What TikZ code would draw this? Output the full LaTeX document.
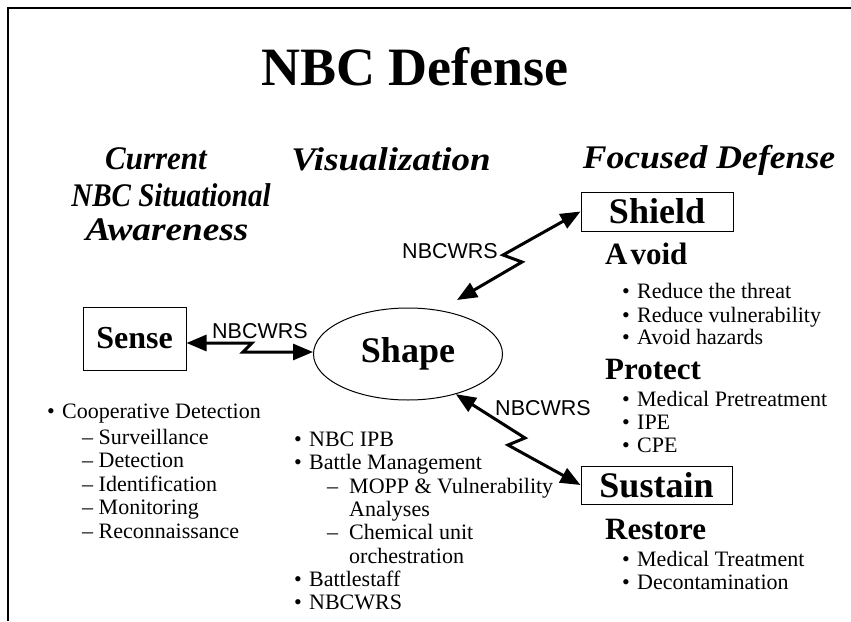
\documentclass[tikz,border=0pt]{standalone}
\usepackage{fontspec}
\setmainfont{Liberation Serif}
\newfontfamily\labfont{Liberation Sans}
\usetikzlibrary{arrows.meta,shapes.geometric,calc}
\begin{document}
\begin{tikzpicture}[x=1pt,y=-1pt,
  body/.style={anchor=mid west,inner sep=0pt,yshift=-4pt,font=\fontsize{22}{24}\selectfont},
  hdr/.style={inner sep=0pt,font=\fontsize{33}{36}\selectfont\bfseries\itshape},
  subhd/.style={anchor=mid west,inner sep=0pt,yshift=-7pt,font=\fontsize{31}{34}\selectfont\bfseries},
  boxlab/.style={draw,line width=1pt,inner sep=0pt,font=\fontsize{36}{40}\selectfont\bfseries},
  lab/.style={inner sep=0pt,font=\labfont\fontsize{21.5}{23}\selectfont},
  bolt/.style={line width=3pt,{Triangle[length=20pt,width=16pt]}-{Triangle[length=20pt,width=16pt]}}
]
\useasboundingbox (0,0) rectangle (851,621);
\draw[line width=1.5pt] (8,621) -- (8,8) -- (851,8);

\node[inner sep=0pt,font=\fontsize{54}{60}\selectfont\bfseries] (title) at (415,67) {NBC Defense};

\node[hdr] (h1) at (156,159) {\scalebox{0.94}[1]{Current}};
\node[hdr] (h2) at (171,195) {\scalebox{0.88}[1]{NBC Situational}};
\node[hdr] (h3) at (167,230) {\scalebox{1.13}[1]{Awareness}};
\node[hdr] (h4) at (391,159) {\scalebox{1.12}[1]{Visualization}};
\node[hdr] (h5) at (709,160) {\scalebox{1.08}[1]{Focused Defense}};

\node[boxlab,minimum width=103pt,minimum height=63pt,font=\fontsize{32}{36}\selectfont\bfseries] (sense) at (134.5,338.5) {Sense};
\node[draw,ellipse,line width=1pt,minimum width=189pt,minimum height=92pt,inner sep=0pt,font=\fontsize{36}{40}\selectfont\bfseries] (shape) at (408,354) {Shape};
\node[boxlab,minimum width=152pt,minimum height=39pt] (shield) at (657,211.5) {Shield};
\node[boxlab,minimum width=151pt,minimum height=38pt] (sustain) at (656.5,485) {Sustain};

% connectors
\coordinate (k1a) at (252,343);
\coordinate (k1b) at (243,352);
\draw[bolt] (sense.east |- k1a) -- (k1a) -- (k1b) -- (shape.west |- k1b);
\coordinate (t2) at (457,300);
\coordinate (k2a) at (522,262);
\coordinate (k2b) at (503,255);
\draw[bolt] (t2) -- (k2a) -- (k2b) -- (shield.west);
\coordinate (k3a) at (525,438);
\coordinate (k3b) at (508,445);
\draw[bolt] (shape.-40) -- (k3a) -- (k3b) -- (sustain.west);

\node[lab] (w1) at (260,331) {NBCWRS};
\node[lab] (w2) at (450,251) {NBCWRS};
\node[lab] (w3) at (543,408) {NBCWRS};

% left list
\node[body] (l1) at (47,412) {\makebox[15pt][l]{\textbullet}Cooperative Detection};
\node[body] (l2) at (82,438) {– Surveillance};
\node[body] (l3) at (82,461) {– Detection};
\node[body] (l4) at (82,485) {– Identification};
\node[body] (l5) at (82,508) {– Monitoring};
\node[body] (l6) at (82,532) {– Reconnaissance};

% middle list
\node[body] (m1) at (294,440) {\makebox[15pt][l]{\textbullet}NBC IPB};
\node[body] (m2) at (294,463) {\makebox[15pt][l]{\textbullet}Battle Management};
\node[body] (m3) at (327,487) {\makebox[22pt][l]{–}MOPP \& Vulnerability};
\node[body] (m4) at (349,510) {Analyses};
\node[body] (m5) at (327,533) {\makebox[22pt][l]{–}Chemical unit};
\node[body] (m6) at (349,557) {orchestration};
\node[body] (m7) at (294,580) {\makebox[15pt][l]{\textbullet}Battlestaff};
\node[body] (m8) at (294,603) {\makebox[15pt][l]{\textbullet}NBCWRS};

% right column
\node[subhd] (avoid) at (605,255) {A\kern3pt void};
\node[body] (r1) at (622,292) {\makebox[15pt][l]{\textbullet}Reduce the threat};
\node[body] (r2) at (622,316) {\makebox[15pt][l]{\textbullet}Reduce vulnerability};
\node[body] (r3) at (622,338) {\makebox[15pt][l]{\textbullet}Avoid hazards};
\node[subhd] (protect) at (605,370) {Protect};
\node[body] (r4) at (622,400) {\makebox[15pt][l]{\textbullet}Medical Pretreatment};
\node[body] (r5) at (622,423) {\makebox[15pt][l]{\textbullet}IPE};
\node[body] (r6) at (622,446) {\makebox[15pt][l]{\textbullet}CPE};
\node[subhd] (restore) at (605,530) {Restore};
\node[body] (r7) at (622,560) {\makebox[15pt][l]{\textbullet}Medical Treatment};
\node[body] (r8) at (622,583) {\makebox[15pt][l]{\textbullet}Decontamination};
\end{tikzpicture}
\end{document}
